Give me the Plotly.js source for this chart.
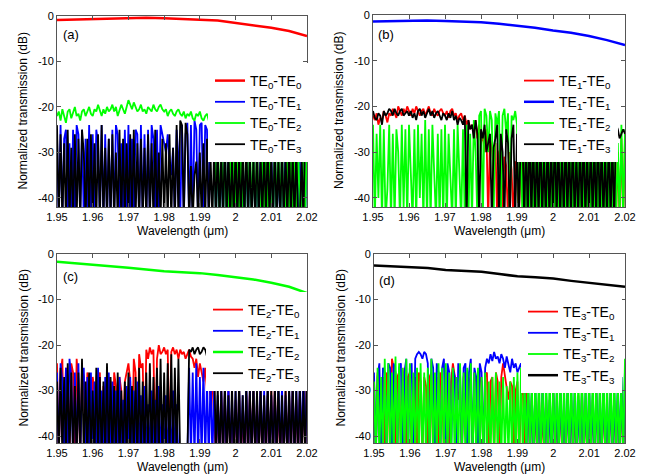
<!DOCTYPE html>
<html>
<head>
<meta charset="utf-8">
<script src="https://cdn.plot.ly/plotly-3.0.1.min.js"></script>
<style>html,body{margin:0;padding:0;background:#fff;}#chart{width:649px;height:475px;}</style>
</head>
<body>
<div id="chart"></div>
<script>
// Wavelength sampling (µm)
const wl = [1.9500,1.9505,1.9510,1.9515,1.9520,1.9525,1.9530,1.9535,1.9540,1.9545,
1.9550,1.9555,1.9560,1.9565,1.9570,1.9575,1.9580,1.9585,1.9590,1.9595,
1.9600,1.9605,1.9610,1.9615,1.9620,1.9625,1.9630,1.9635,1.9640,1.9645,
1.9650,1.9655,1.9660,1.9665,1.9670,1.9675,1.9680,1.9685,1.9690,1.9695,
1.9700,1.9705,1.9710,1.9715,1.9720,1.9725,1.9730,1.9735,1.9740,1.9745,
1.9750,1.9755,1.9760,1.9765,1.9770,1.9775,1.9780,1.9785,1.9790,1.9795,
1.9800,1.9805,1.9810,1.9815,1.9820,1.9825,1.9830,1.9835,1.9840,1.9845,
1.9850,1.9855,1.9860,1.9865,1.9870,1.9875,1.9880,1.9885,1.9890,1.9895,
1.9900,1.9905,1.9910,1.9915,1.9920,1.9925,1.9930,1.9935,1.9940,1.9945,
1.9950,1.9955,1.9960,1.9965,1.9970,1.9975,1.9980,1.9985,1.9990,1.9995,
2.0000,2.0005,2.0010,2.0015,2.0020,2.0025,2.0030,2.0035,2.0040,2.0045,
2.0050,2.0055,2.0060,2.0065,2.0070,2.0075,2.0080,2.0085,2.0090,2.0095,
2.0100,2.0105,2.0110,2.0115,2.0120,2.0125,2.0130,2.0135,2.0140,2.0145,
2.0150,2.0155,2.0160,2.0165,2.0170,2.0175,2.0180,2.0185,2.0190,2.0195,
2.0200];
const wlc = [1.950,1.955,1.960,1.965,1.970,1.975,1.980,1.985,1.990,1.995,2.000,2.005,2.010,2.015,2.020];

// Panel (a): TE0 input
const a_TE0 = [-0.9,-0.8,-0.6,-0.5,-0.4,-0.4,-0.5,-0.6,-0.8,-1.0,-1.5,-2.0,-2.6,-3.3,-4.4];
const a_TE1 = [
-26,-45,-24,-45,-27,-25,-45,-28,-45,-25,
-45,-24,-26,-45,-25,-45,-27,-45,-24,-45,
-26,-45,-25,-28,-45,-24,-45,-26,-45,-27,
-45,-25,-45,-24,-26,-45,-28,-45,-25,-45,
-24,-45,-27,-45,-25,-26,-45,-24,-45,-26,
-45,-25,-45,-24,-27,-45,-25,-45,-24,-26,
-28,-30,-26,-33,-35,-29,-45,-25,-31,-45,
-24,-45,-26,-23.5,-45,-24,-45,-23,-25,-45,
-24,-23.5,-45,-24,-25,-45,-23.5,-26,-28,-45,
-30,-45,-32,-45,-29,-45,-31,-45,-33,-45,
-30,-45,-29,-45,-32,-45,-30,-45,-31,-45,
-29,-45,-33,-45,-30,-45,-28,-45,-31,-45,
-30,-45,-29,-45,-32,-45,-30,-45,-28,-45,
-31,-45,-29,-45,-30,-45,-32,-45,-28,-45,
-27];
const a_TE2 = [
-22,-21,-23,-20.5,-22,-23.5,-21,-20.5,-22.5,-21,
-20,-22,-21.5,-23,-21,-20.5,-22,-21,-20,-21.5,
-22,-20.5,-21,-19.5,-21,-22,-20.5,-21.5,-20,-21,
-20.5,-19.5,-21,-20,-22,-20.5,-19.5,-20.5,-21.5,-20,
-18.5,-19.5,-20.5,-19,-20,-21,-20.5,-19.5,-21,-20.5,
-21.5,-20,-20.5,-21,-19.5,-20.5,-21,-20,-19.5,-20.5,
-21,-20.5,-22,-21,-20.5,-21.5,-22,-21,-20.5,-21.5,
-22,-21,-22.5,-21.5,-22,-21,-22.5,-23,-21.5,-22,
-21,-22.5,-23,-22,-21.5,-23,-22,-23.5,-22.5,-45,
-27,-45,-26,-45,-28,-45,-45,-27,-45,-29,
-45,-26,-45,-28,-45,-45,-27,-45,-26,-45,
-29,-45,-27,-45,-45,-26,-45,-28,-45,-27,
-45,-45,-26,-45,-28,-45,-27,-45,-45,-26,
-45,-28,-45,-27,-45,-26,-45,-45,-25,-45,
-24];
const a_TE3 = [
-24,-45,-26,-45,-28,-45,-25,-45,-29,-45,
-26,-45,-27,-45,-25,-30,-45,-27,-45,-26,
-45,-28,-45,-26,-45,-24,-45,-29,-45,-27,
-45,-26,-45,-30,-45,-25,-45,-27,-45,-28,
-45,-26,-45,-25,-45,-28,-45,-27,-45,-29,
-45,-26,-45,-28,-45,-25,-45,-30,-45,-27,
-45,-28,-45,-26,-45,-29,-45,-24,-45,-23,
-24,-45,-23.5,-26,-45,-33,-45,-35,-32,-45,
-30,-45,-28,-45,-27,-45,-31,-45,-29,-45,
-28,-45,-30,-45,-27,-45,-29,-45,-31,-45,
-28,-45,-30,-45,-29,-45,-27,-45,-30,-45,
-31,-45,-28,-45,-30,-45,-29,-45,-27,-45,
-30,-45,-28,-45,-31,-45,-29,-45,-30,-45,
-28,-45,-30,-45,-29,-45,-45,-31,-45,-25,
-25];

// Panel (b): TE1 input
const b_TE0 = [
-22,-23,-21.5,-24,-22.5,-23,-21,-22,-23.5,-21.5,
-22,-20.5,-21.5,-22.5,-20,-21,-22,-20.5,-21.5,-20,
-21,-22,-20.5,-21.5,-20,-21,-22,-21,-20.5,-22,
-21,-20,-21.5,-22,-20.5,-21.5,-22,-21,-20.5,-21.5,
-22,-21,-22.5,-21,-20.5,-22,-21.5,-23,-22,-21.5,
-23,-22,-24,-23,-25,-24,-26,-23,-27,-24,
-28,-26,-30,-25,-45,-27,-29,-33,-28,-45,
-30,-29,-45,-31,-33,-45,-30,-34,-45,-32,
-35,-45,-33,-31,-45,-34,-45,-32,-45,-45,
-33,-45,-30,-45,-35,-45,-31,-45,-34,-45,
-32,-45,-30,-45,-33,-45,-31,-45,-29,-45,
-32,-45,-28,-45,-33,-45,-30,-45,-34,-45,
-31,-45,-29,-45,-32,-45,-30,-45,-33,-45,
-29,-45,-31,-45,-28,-45,-30,-45,-27,-45,
-27];
const b_TE1 = [-1.4,-1.3,-1.2,-1.2,-1.3,-1.4,-1.6,-1.9,-2.3,-2.8,-3.4,-3.9,-4.6,-5.5,-6.6];
const b_TE2 = [
-24,-45,-26,-40,-24,-45,-25,-45,-38,-24,
-45,-26,-45,-25,-30,-45,-24,-42,-25,-45,
-24,-36,-45,-25,-45,-24,-40,-26,-45,-23,
-45,-25,-45,-24,-38,-45,-26,-45,-25,-45,
-24,-45,-26,-35,-45,-25,-45,-24,-40,-45,
-25,-45,-24,-45,-26,-45,-23,-30,-45,-22,
-21,-45,-20.5,-22,-30,-21,-23,-45,-21.5,-24,
-21,-45,-22,-20.5,-26,-21.5,-45,-22,-23,-21,
-24,-45,-25,-45,-27,-45,-26,-45,-28,-45,
-26,-45,-27,-45,-25,-45,-28,-45,-26,-45,
-27,-45,-25,-45,-29,-45,-26,-45,-28,-45,
-25,-45,-27,-45,-26,-45,-24,-45,-28,-45,
-26,-45,-27,-45,-25,-45,-28,-45,-26,-45,
-27,-45,-25,-45,-26,-45,-28,-45,-24,-45,
-25];
const b_TE3 = [
-21,-22.5,-23,-21.5,-22,-24,-21,-22,-21.5,-20.5,
-21,-22,-20.5,-21.5,-22,-21,-20.5,-22,-21.5,-21,
-22,-21,-22.5,-21.5,-23,-21,-20.5,-22,-21,-22.5,
-21.5,-20.5,-22,-21,-22.5,-21.5,-21,-22,-23,-21.5,
-22,-23,-21.5,-22.5,-21,-23,-22,-24,-22.5,-23,
-24,-22,-45,-23,-25,-24,-27,-23,-26,-45,
-25,-27,-24,-30,-28,-26,-45,-29,-27,-24,
-45,-26,-30,-45,-25,-28,-45,-27,-24,-45,
-26,-45,-28,-25,-45,-27,-45,-24,-45,-26,
-45,-28,-45,-25,-45,-30,-45,-26,-45,-28,
-45,-24,-45,-27,-45,-29,-45,-25,-45,-28,
-45,-26,-45,-30,-45,-27,-45,-25,-45,-29,
-45,-26,-45,-28,-45,-24,-45,-27,-45,-30,
-45,-26,-45,-28,-45,-24,-25,-27,-26,-25,
-26];

// Panel (c): TE2 input
const c_TE0 = [
-24,-45,-26,-23,-45,-25,-27,-45,-24,-26,
-45,-23,-28,-45,-25,-27,-45,-26,-28,-45,
-27,-30,-45,-28,-26,-45,-29,-31,-45,-27,
-28,-45,-26,-29,-45,-27,-30,-45,-28,-26,
-24,-28,-45,-23,-26,-45,-22,-25,-24,-45,
-21,-23,-20.5,-22,-21,-45,-23,-20,-22,-21.5,
-20.5,-22,-21,-45,-21.5,-20.5,-22,-21,-23,-21,
-22,-21.5,-23,-22,-21,-22.5,-23,-25,-23,-27,
-24,-26,-28,-25,-30,-27,-32,-28,-35,-45,
-33,-45,-30,-45,-31,-45,-29,-45,-33,-45,
-32,-45,-30,-45,-35,-45,-31,-45,-30,-45,
-29,-45,-32,-45,-30,-45,-33,-45,-31,-45,
-30,-45,-29,-45,-32,-45,-34,-45,-30,-45,
-31,-45,-29,-45,-32,-45,-30,-45,-28,-45,
-24];
const c_TE1 = [
-26,-45,-24,-28,-45,-25,-45,-23,-27,-45,
-26,-45,-24,-45,-28,-25,-45,-27,-45,-26,
-45,-28,-45,-25,-45,-30,-45,-27,-45,-26,
-45,-28,-45,-30,-45,-27,-45,-32,-45,-29,
-45,-27,-45,-30,-45,-28,-45,-31,-45,-29,
-45,-33,-45,-30,-45,-32,-45,-29,-45,-33,
-45,-31,-45,-34,-45,-30,-45,-33,-45,-45,
-45,-45,-45,-45,-25,-45,-26,-45,-24,-45,
-27,-45,-25,-45,-28,-45,-26,-45,-30,-45,
-31,-45,-29,-45,-30,-45,-28,-45,-31,-45,
-30,-45,-29,-45,-31,-45,-28,-45,-30,-45,
-29,-45,-31,-45,-28,-45,-30,-45,-29,-45,
-31,-45,-30,-45,-28,-45,-29,-45,-31,-45,
-30,-45,-28,-45,-29,-45,-27,-45,-25,-45,
-26];
const c_TE2 = [-1.7,-2.0,-2.3,-2.6,-3.0,-3.4,-3.8,-4.0,-4.2,-4.6,-5.1,-5.6,-6.3,-7.2,-8.6];
const c_TE3 = [
-28,-45,-25,-45,-27,-45,-24,-45,-26,-45,
-29,-45,-26,-45,-23,-45,-28,-45,-26,-45,
-30,-45,-25,-45,-27,-45,-28,-45,-24,-45,
-27,-45,-29,-45,-26,-45,-30,-45,-28,-45,
-26,-45,-29,-45,-27,-45,-25,-45,-28,-45,
-26,-45,-24,-45,-27,-45,-25,-45,-23,-45,
-26,-45,-24,-45,-22,-45,-25,-45,-23,-45,
-45,-45,-45,-45,-21,-21.5,-20.5,-22,-21,-20.5,
-22,-21.5,-20.5,-21,-22.5,-21,-21.5,-20.5,-22,-45,
-29,-45,-30,-45,-28,-45,-31,-45,-29,-45,
-30,-45,-28,-45,-31,-45,-29,-45,-30,-45,
-28,-45,-30,-45,-29,-45,-31,-45,-28,-45,
-30,-45,-29,-45,-28,-45,-31,-45,-30,-45,
-29,-45,-28,-45,-30,-45,-29,-45,-30,-45,
-25];

// Panel (d): TE3 input
const d_TE0 = [
-27,-45,-26,-28,-45,-27,-45,-26,-28,-45,
-23,-25,-45,-27,-26,-45,-28,-25,-45,-27,
-26,-45,-28,-27,-45,-26,-28,-45,-27,-29,
-45,-27,-26,-45,-28,-27,-45,-26,-28,-45,
-27,-26,-45,-28,-24,-27,-30,-32,-28,-45,
-27,-26,-45,-28,-27,-45,-26,-28,-45,-27,
-28,-45,-27,-26,-45,-28,-27,-45,-26,-28,
-45,-27,-24,-27,-30,-32,-28,-29,-45,-30,
-28,-45,-31,-29,-45,-30,-32,-45,-31,-45,
-33,-45,-30,-45,-34,-45,-31,-45,-32,-45,
-30,-45,-35,-45,-31,-45,-33,-45,-30,-45,
-32,-45,-34,-45,-31,-45,-30,-45,-33,-45,
-31,-45,-32,-45,-30,-45,-34,-45,-31,-45,
-33,-45,-30,-45,-32,-45,-31,-45,-30,-45,
-31];
const d_TE1 = [
-26,-45,-27,-24,-45,-25,-26,-45,-24,-25,
-45,-24,-26,-45,-25,-24,-45,-26,-23,-45,
-25,-24,-45,-23,-22,-21.5,-22,-23,-21.5,-22,
-24,-45,-23,-25,-45,-24,-26,-45,-25,-23,
-45,-24,-26,-45,-25,-27,-45,-24,-26,-45,
-25,-24,-45,-26,-23,-45,-25,-27,-45,-24,
-26,-45,-25,-23,-24,-22,-23.5,-21.5,-23,-22.5,
-24,-22,-23,-25,-22.5,-24,-26,-23,-25,-24,
-26,-25,-24,-27,-25,-45,-28,-45,-30,-45,
-29,-45,-31,-45,-28,-45,-30,-45,-32,-45,
-29,-45,-30,-45,-28,-45,-31,-45,-29,-45,
-30,-45,-28,-45,-32,-45,-29,-45,-30,-45,
-28,-45,-31,-45,-29,-45,-30,-45,-28,-45,
-31,-45,-29,-45,-30,-45,-28,-45,-27,-45,
-25];
const d_TE2 = [
-28,-45,-25,-45,-27,-45,-23,-45,-24,-45,
-26,-45,-22.5,-45,-24,-45,-25,-45,-23,-45,
-24,-45,-26,-45,-25,-45,-24,-45,-26,-45,
-25,-45,-23,-45,-26,-45,-24,-45,-25,-45,
-24,-45,-26,-45,-25,-45,-27,-45,-24,-45,
-26,-45,-25,-45,-24,-45,-26,-45,-25,-45,
-27,-45,-26,-45,-28,-45,-27,-45,-26,-45,
-28,-45,-27,-45,-29,-45,-28,-45,-27,-45,
-26,-45,-25,-45,-27,-45,-26,-45,-28,-45,
-27,-45,-26,-45,-28,-45,-27,-45,-26,-45,
-28,-45,-27,-45,-26,-45,-28,-45,-27,-45,
-26,-45,-28,-45,-27,-45,-26,-45,-28,-45,
-27,-45,-26,-45,-28,-45,-27,-45,-26,-45,
-28,-45,-27,-45,-26,-45,-28,-45,-27,-45,
-23];
const d_TE3 = [-2.5,-2.7,-2.9,-3.1,-3.5,-3.7,-3.9,-4.4,-4.9,-5.1,-5.4,-5.9,-6.3,-6.7,-7.2];

const xTickVals = [1.95,1.96,1.97,1.98,1.99,2.00,2.01,2.02];
const xTickText = ['1.95','1.96','1.97','1.98','1.99','2','2.01','2.02'];
const yTickVals = [0,-10,-20,-30,-40];
const yTickText = ['0','-10','-20','-30','-40'];
const panelLabels = ['(a)','(b)','(c)','(d)'];
const inputMode = ['0','1','2','3'];

const COLORS = ['#ff0000','#0000ff','#00ff00','#000000'];
const panels = [
  {ax:'', data:[a_TE0,a_TE1,a_TE2,a_TE3], main:0},
  {ax:'2', data:[b_TE0,b_TE1,b_TE2,b_TE3], main:1},
  {ax:'3', data:[c_TE0,c_TE1,c_TE2,c_TE3], main:2},
  {ax:'4', data:[d_TE0,d_TE1,d_TE2,d_TE3], main:3}
];

const traces = [];
panels.forEach((p, pi) => {
  p.data.forEach((ys, k) => {
    const isMain = (k === p.main);
    traces.push({
      x: isMain ? wlc : wl,
      y: ys,
      type: 'scatter',
      mode: 'lines',
      name: 'TE<sub>' + inputMode[pi] + '</sub>-TE<sub>' + k + '</sub>',
      line: {color: COLORS[k], width: isMain ? 2.5 : 1.8},
      xaxis: 'x' + p.ax,
      yaxis: 'y' + p.ax,
      legend: 'legend' + p.ax,
      hoverinfo: 'skip'
    });
  });
});

const W = 649, H = 475;
const dom = [
  {x:[57,307], y:[16,207], yr:[-42,0]},
  {x:[373,625], y:[15,207], yr:[-42,0]},
  {x:[57,307], y:[254,443], yr:[-41.5,0]},
  {x:[374,625], y:[254,443], yr:[-41.5,0]}
];
const FONT = 'Liberation Sans, Arial, sans-serif';
const layout = {
  width: W, height: H,
  margin: {l:0, r:0, t:0, b:0},
  paper_bgcolor: '#fff', plot_bgcolor: '#fff',
  font: {family: FONT, size: 11, color: '#000'},
  showlegend: true,
  annotations: []
};
const legendPos = [[208,63],[517,63],[206,292],[521,294]];
dom.forEach((d, i) => {
  const s = i === 0 ? '' : String(i + 1);
  const axCommon = {
    showline: true, linecolor: '#555', linewidth: 1, mirror: 'ticks',
    ticks: 'inside', ticklen: 4, tickcolor: '#555',
    showgrid: false, zeroline: false, tickfont: {family: FONT, size: 11, color: '#000'}
  };
  layout['xaxis' + s] = Object.assign({}, axCommon, {
    domain: [d.x[0] / W, d.x[1] / W], range: [1.95, 2.02],
    tickvals: xTickVals, ticktext: xTickText, ticklabelstandoff: 0,
    anchor: 'y' + s
  });
  layout['yaxis' + s] = Object.assign({}, axCommon, {
    domain: [1 - d.y[1] / H, 1 - d.y[0] / H], range: d.yr,
    tickvals: yTickVals, ticktext: yTickText,
    anchor: 'x' + s
  });
  layout['legend' + s] = {
    x: legendPos[i][0] / W, y: 1 - legendPos[i][1] / H, xanchor: 'left', yanchor: 'top',
    bgcolor: '#fff', bordercolor: '#fff', borderwidth: 2,
    font: {family: FONT, size: 14, color: '#000'},
    itemwidth: 30, tracegroupgap: 0
  };
  const lab = [[61,34],[376,34],[61,276],[377,280]][i];
  layout.annotations.push({
    text: panelLabels[i], xref: 'paper', yref: 'paper', x: lab[0] / W, y: 1 - lab[1] / H,
    xanchor: 'left', yanchor: 'middle', showarrow: false, font: {family: FONT, size: 13, color: '#000'}
  });
  layout.annotations.push({
    text: 'Wavelength (μm)', xref: 'paper', yref: 'paper', x: (d.x[0] + d.x[1]) / 2 / W,
    y: 1 - (d.y[1] + 24) / H, xanchor: 'center', yanchor: 'middle', showarrow: false,
    font: {family: FONT, size: 12, color: '#000'}
  });
  layout.annotations.push({
    text: 'Normalized transmission (dB)', xref: 'paper', yref: 'paper', x: (d.x[0] - 34) / W,
    y: 1 - (d.y[0] + d.y[1]) / 2 / H, xanchor: 'center', yanchor: 'middle', textangle: -90,
    showarrow: false, font: {family: FONT, size: 12, color: '#000'}
  });
});

Plotly.newPlot('chart', traces, layout, {staticPlot: true, displayModeBar: false});
</script>
</body>
</html>
